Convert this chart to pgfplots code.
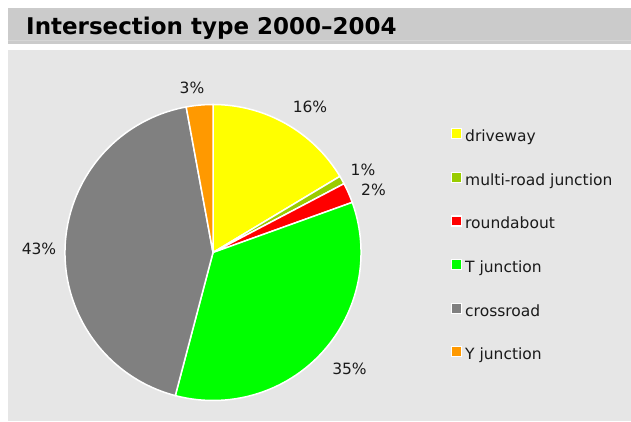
\documentclass[border=0pt]{standalone}
\usepackage{fontspec}
\setmainfont{DejaVu Sans}
\usepackage{pgfplots}
\pgfplotsset{compat=1.18}
\definecolor{bgpanel}{HTML}{E6E6E6}
\definecolor{titlebar}{HTML}{CBCBCB}
\definecolor{titleline}{HTML}{D6D6D6}
\definecolor{cdrive}{HTML}{FFFF00}
\definecolor{cmulti}{HTML}{99CC00}
\definecolor{cround}{HTML}{FF0000}
\definecolor{ctj}{HTML}{00FF00}
\definecolor{ccross}{HTML}{808080}
\definecolor{cyj}{HTML}{FF9900}
\definecolor{txt}{HTML}{1A1A1A}
\newcommand\lblfont{\fontsize{15.5}{18}\selectfont}
\begin{document}
\begin{tikzpicture}[x=1pt,y=1pt]
% shares (percent)
\pgfmathsetmacro\aA{90}
\pgfmathsetmacro\aB{90-3.6*(16.4)}
\pgfmathsetmacro\aC{90-3.6*(16.4+0.9)}
\pgfmathsetmacro\aD{90-3.6*(16.4+0.9+2.2)}
\pgfmathsetmacro\aE{90-3.6*(16.4+0.9+2.2+34.6)}
\pgfmathsetmacro\aF{90-3.6*(16.4+0.9+2.2+34.6+43.0)}
\pgfmathsetmacro\aG{90-3.6*(16.4+0.9+2.2+34.6+43.0+2.9)}
\fill[white] (0,0) rectangle (631,421);
\fill[bgpanel] (8,0) rectangle (631,371);
\fill[titlebar] (8,377) rectangle (631,413);
\fill[titleline] (8,380) rectangle (631,381);
\node[anchor=base west, inner sep=0pt, text=black, font=\fontsize{23}{27}\selectfont\bfseries] at (26,386) {Intersection type 2000–2004};
\begin{axis}[
  at={(213pt,168.5pt)}, anchor=origin,
  width=296pt, height=296pt, scale only axis,
  xmin=-1, xmax=1, ymin=-1, ymax=1,
  hide axis, clip=false,
  legend style={at={(1.30405,0.92061)}, anchor=north west, draw=none, fill=none,
    inner sep=0pt, outer sep=0pt, row sep=27.25pt, column sep=3pt,
    font=\lblfont, text=txt,
    nodes={inner sep=0pt, text height=12pt, text depth=3pt}},
  legend cell align=left,
  legend image code/.code={\draw[#1, draw=white, line width=1.2pt] (0pt,-1.7pt) rectangle (10pt,8.3pt);},
]
\addplot[fill=cdrive, draw=white, line width=1.5pt, data cs=polar] coordinates {(0,0) (\aA,1)} arc[start angle=\aA, end angle=\aB, radius=148pt] -- cycle;
\addlegendentry{driveway}
\addplot[fill=cmulti, draw=white, line width=1.5pt, data cs=polar] coordinates {(0,0) (\aB,1)} arc[start angle=\aB, end angle=\aC, radius=148pt] -- cycle;
\addlegendentry{multi-road junction}
\addplot[fill=cround, draw=white, line width=1.5pt, data cs=polar] coordinates {(0,0) (\aC,1)} arc[start angle=\aC, end angle=\aD, radius=148pt] -- cycle;
\addlegendentry{roundabout}
\addplot[fill=ctj, draw=white, line width=1.5pt, data cs=polar] coordinates {(0,0) (\aD,1)} arc[start angle=\aD, end angle=\aE, radius=148pt] -- cycle;
\addlegendentry{T junction}
\addplot[fill=ccross, draw=white, line width=1.5pt, data cs=polar] coordinates {(0,0) (\aE,1)} arc[start angle=\aE, end angle=\aF, radius=148pt] -- cycle;
\addlegendentry{crossroad}
\addplot[fill=cyj, draw=white, line width=1.5pt, data cs=polar] coordinates {(0,0) (\aF,1)} arc[start angle=\aF, end angle=\aG, radius=148pt] -- cycle;
\addlegendentry{Y junction}
\end{axis}
\begin{scope}[every node/.style={anchor=base, inner sep=0pt, text=txt, font=\lblfont}]
\node at (310,308.3) {16\%};
\node at (192,327) {3\%};
\node at (363,246) {1\%};
\node at (373.5,226) {2\%};
\node at (349.5,46.7) {35\%};
\node at (39,167) {43\%};
\end{scope}
\end{tikzpicture}
\end{document}
